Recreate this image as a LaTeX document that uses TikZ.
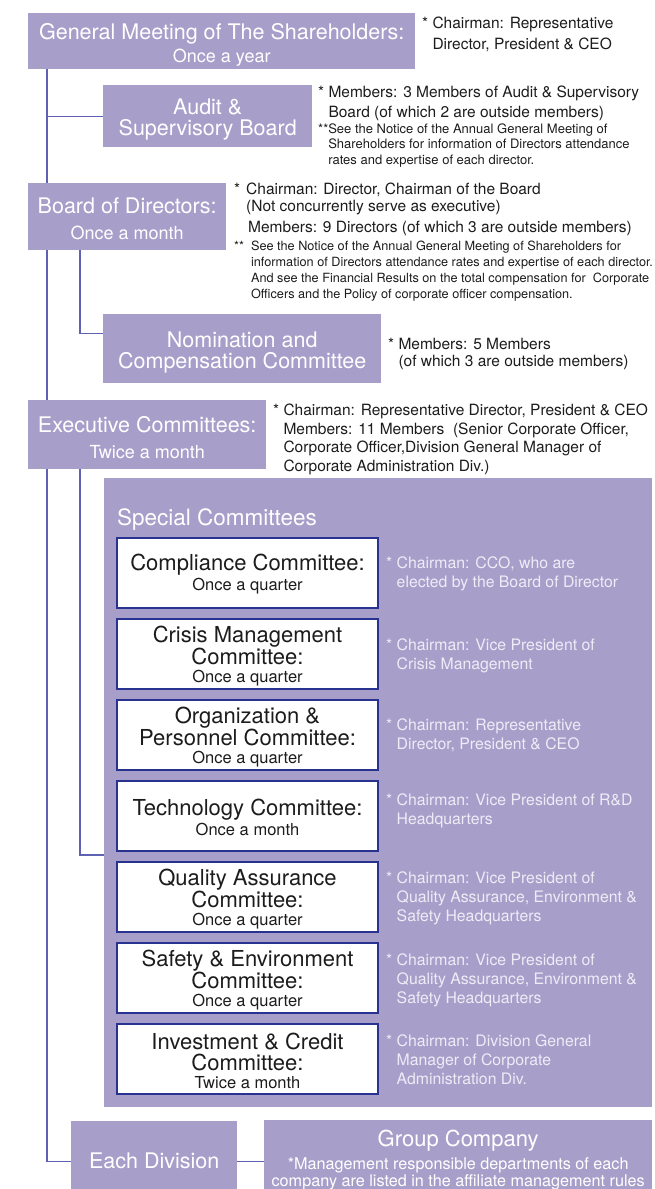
\documentclass[tikz,border=0pt]{standalone}
\usepackage{fontspec}
\setmainfont{TeX Gyre Heros}
\usetikzlibrary{backgrounds}
\definecolor{lav}{HTML}{A79FCA}
\definecolor{conn}{HTML}{5F62B2}
\definecolor{navy}{HTML}{283290}
\definecolor{pale}{HTML}{EEECF6}
\definecolor{ink}{HTML}{1C1C1C}
\newcommand\fbig{\fontsize{21.5}{21}\selectfont}
\newcommand\fmid{\fontsize{18}{26}\selectfont}
\newcommand\fsub{\fontsize{16.5}{18}\selectfont}
\newcommand\fgrp{\fontsize{16.2}{17}\selectfont}
\newcommand\ind{\hphantom{* }}
\newcommand\up[1]{\rule{0pt}{#1}}
\begin{document}
\begin{tikzpicture}[x=1pt,y=-1pt,
  lavbox/.style={fill=lav,text=white,inner sep=0pt,anchor=north west,align=center},
  combox/.style={draw=navy,line width=2pt,fill=white,text=ink,inner sep=0pt,anchor=north west,
    align=center,minimum width=261pt,minimum height=70pt,font=\fontsize{22}{21}\selectfont},
  note/.style={anchor=base west,align=left,inner sep=0pt,text=ink},
  spnote/.style={anchor=base west,align=left,inner sep=0pt,text=pale,font=\fontsize{15.8}{19}\selectfont},
  link/.style={draw=conn,line width=1.1pt}
]
\useasboundingbox (0,0) rectangle (655,1189);

% main boxes
\node[lavbox,minimum width=387,minimum height=56,font=\fbig] (gm) at (28,13)
  {\up{23pt}General Meeting of The Shareholders:\\[2pt]{\fmid Once a year}};
\node[lavbox,minimum width=209,minimum height=62,font=\fbig] (audit) at (103,85)
  {\up{22pt}Audit \&\\Supervisory Board};
\node[lavbox,minimum width=198,minimum height=67,font=\fbig] (board) at (28,183)
  {\up{20pt}Board of Directors:\\[5pt]{\fmid Once a month}};
\node[lavbox,minimum width=278,minimum height=69,font=\fbig] (nom) at (103,314)
  {\up{23pt}Nomination and\\Compensation Committee};
\node[lavbox,minimum width=238,minimum height=69,font=\fbig] (exec) at (28,400)
  {\up{22pt}Executive Committees:\\[5pt]{\fmid Twice a month}};
\node[lavbox,minimum width=548,minimum height=629] (spec) at (104,478) {};
\node[anchor=base west,inner sep=0pt,text=white,font=\fontsize{22.5}{24}\selectfont] (spectitle) at (117,525) {Special Committees};
\node[lavbox,minimum width=166,minimum height=80,font=\fbig] (ediv) at (71,1121) {Each Division};
\node[lavbox,minimum width=388,minimum height=80,font=\fgrp] (grp) at (264,1120)
  {{\fontsize{22}{22}\selectfont Group Company}\\[6pt]*Management responsible departments of each\\company are listed in the affiliate management rules};

% committees
\node[combox] (c1) at (116,537) {\up{19pt}Compliance Committee:\\[-1pt]{\fsub Once a quarter}};
\node[combox] (c2) at (116,618) {\up{21pt}Crisis Management\\Committee:\\[-3pt]{\fsub Once a quarter}};
\node[combox] (c3) at (116,699) {\up{21pt}Organization \&\\Personnel Committee:\\[-3pt]{\fsub Once a quarter}};
\node[combox] (c4) at (116,780) {\up{20pt}Technology Committee:\\[-1pt]{\fsub Once a month}};
\node[combox] (c5) at (116,861) {\up{21pt}Quality Assurance\\Committee:\\[-3pt]{\fsub Once a quarter}};
\node[combox] (c6) at (116,942) {\up{21pt}Safety \& Environment\\Committee:\\[-3pt]{\fsub Once a quarter}};
\node[combox] (c7) at (116,1023) {\up{21pt}Investment \& Credit\\Committee:\\[-3pt]{\fsub Twice a month}};

% notes (anchored at the baseline of their last line)
\node[note,font=\fontsize{15.5}{21}\selectfont] (ngm) at (422,49) {* Chairman: Representative\\\ind Director, President \& CEO};
\node[note,font=\fontsize{15.5}{20}\selectfont] (naud) at (318,117) {* Members: 3 Members of Audit \& Supervisory\\\ind Board (of which 2 are outside members)};
\node[note,font=\fontsize{13}{15.5}\selectfont] (naud2) at (318,164) {**See the Notice of the Annual General Meeting of\\\hphantom{**}Shareholders for information of Directors attendance\\\hphantom{**}rates and expertise of each director.};
\node[note,font=\fontsize{15.5}{16.5}\selectfont] (nbd) at (234,211) {*\hspace{6pt}Chairman: Director, Chairman of the Board\\\hphantom{*\hspace{6pt}}(Not concurrently serve as executive)};
\node[note,font=\fontsize{15.5}{17}\selectfont] (nbd2) at (248,232) {Members: 9 Directors (of which 3 are outside members)};
\node[note,font=\fontsize{12.7}{16}\selectfont] (nbd3) at (234,298) {**\hspace{7pt}See the Notice of the Annual General Meeting of Shareholders for\\\hphantom{**\hspace{7pt}}information of Directors attendance rates and expertise of each director.\\\hphantom{**\hspace{7pt}}And see the Financial Results on the total compensation for\ \ Corporate\\\hphantom{**\hspace{7pt}}Officers and the Policy of corporate officer compensation.};
\node[note,font=\fontsize{15.5}{17}\selectfont] (nnom) at (388,366) {* Members: 5 Members\\\ind(of which 3 are outside members)};
\node[note,font=\fontsize{15.5}{18.5}\selectfont] (nex) at (273,471) {* Chairman: Representative Director, President \& CEO\\\ind Members: 11 Members\ \ (Senior Corporate Officer,\\\ind Corporate Officer,Division General Manager of\\\ind Corporate Administration Div.)};

\node[spnote] (s1) at (386,587) {* Chairman: CCO, who are\\\ind elected by the Board of Director};
\node[spnote] (s2) at (386,669) {* Chairman: Vice President of\\\ind Crisis Management};
\node[spnote] (s3) at (386,749) {* Chairman: Representative\\\ind Director, President \& CEO};
\node[spnote] (s4) at (386,824) {* Chairman: Vice President of R\&D\\\ind Headquarters};
\node[spnote] (s5) at (386,921) {* Chairman: Vice President of\\\ind Quality Assurance, Environment \&\\\ind Safety Headquarters};
\node[spnote] (s6) at (386,1003) {* Chairman: Vice President of\\\ind Quality Assurance, Environment \&\\\ind Safety Headquarters};
\node[spnote] (s7) at (386,1084) {* Chairman: Division General\\\ind Manager of Corporate\\\ind Administration Div.};

% connectors
\coordinate (trunk) at (47,0);
\coordinate (sub) at (80,0);
\begin{scope}[on background layer]
\draw[link] (trunk |- gm.south) |- (ediv.west);
\draw[link] (trunk |- audit.west) -- (audit.west);
\draw[link] (sub |- board.south) |- ([yshift=15pt]nom.west);
\draw[link] (sub |- exec.south) |- (spec.west |- 0,855);
\draw[link] (ediv.east) -- (ediv.east -| grp.west);
\end{scope}
\end{tikzpicture}
\end{document}
